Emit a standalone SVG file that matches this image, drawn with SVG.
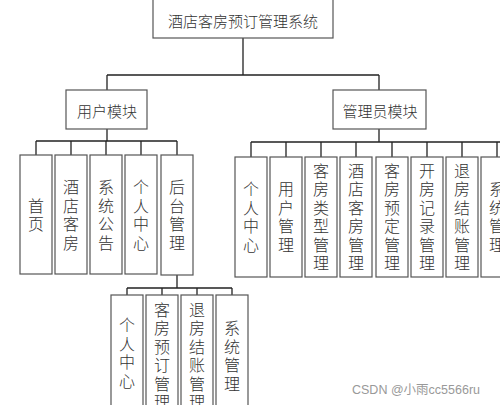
<svg xmlns="http://www.w3.org/2000/svg" width="500" height="405" viewBox="0 0 500 405">
<style>
.box{fill:#fff;stroke:#555;stroke-width:1.2}
.t{font-family:"Noto Sans CJK SC","Noto Sans",sans-serif;font-weight:300;fill:#333;text-anchor:middle}
.h{font-size:15px;dominant-baseline:central}
.v{font-size:16px;writing-mode:vertical-rl;letter-spacing:2.5px}
.c{fill:none;stroke:#222;stroke-width:1.3}
</style>
<rect width="500" height="405" fill="#fff"/>
<g id="connectors">
<path class="c" d="M243 38V75M107 75H379M107 75V90M379 75V90"/>
<path class="c" d="M107 129V141M36 141H177M36 141V155M71 141V155M106 141V155M141 141V155M177 141V155"/>
<path class="c" d="M379 129V142M251 142H500M251 142V157M286 142V157M321 142V157M356 142V157M392 142V157M427 142V157M462 142V157M497 142V157"/>
<path class="c" d="M177 275V288M127 288H232M127 288V295M162 288V295M197 288V295M232 288V295"/>
</g>
<g id="root"><rect class="box" x="153" y="-1" width="180" height="39"/><text class="t h" x="243" y="20">酒店客房预订管理系统</text></g>
<g id="user"><rect class="box" x="66" y="90" width="81" height="39"/><text class="t h" x="107" y="110">用户模块</text></g>
<g id="admin"><rect class="box" x="333" y="90" width="93" height="39"/><text class="t h" x="380" y="110">管理员模块</text></g>
<g id="u1"><rect class="box" x="20" y="155" width="32" height="119"/><text class="t v" x="36" y="216">首页</text></g>
<g id="u2"><rect class="box" x="55" y="155" width="32" height="119"/><text class="t v" x="71" y="216">酒店客房</text></g>
<g id="u3"><rect class="box" x="90" y="155" width="32" height="119"/><text class="t v" x="106" y="216">系统公告</text></g>
<g id="u4"><rect class="box" x="125" y="155" width="32" height="119"/><text class="t v" x="141" y="216">个人中心</text></g>
<g id="u5"><rect class="box" x="161" y="155" width="32" height="120"/><text class="t v" x="177" y="216">后台管理</text></g>
<g id="a1"><rect class="box" x="235" y="157" width="32" height="120"/><text class="t v" x="251" y="218">个人中心</text></g>
<g id="a2"><rect class="box" x="270" y="157" width="32" height="120"/><text class="t v" x="286" y="218">用户管理</text></g>
<g id="a3"><rect class="box" x="305" y="157" width="32" height="120"/><text class="t v" x="321" y="218">客房类型管理</text></g>
<g id="a4"><rect class="box" x="340" y="157" width="32" height="120"/><text class="t v" x="356" y="218">酒店客房管理</text></g>
<g id="a5"><rect class="box" x="376" y="157" width="32" height="120"/><text class="t v" x="392" y="218">客房预定管理</text></g>
<g id="a6"><rect class="box" x="411" y="157" width="32" height="120"/><text class="t v" x="427" y="218">开房记录管理</text></g>
<g id="a7"><rect class="box" x="446" y="157" width="32" height="120"/><text class="t v" x="462" y="218">退房结账管理</text></g>
<g id="a8"><rect class="box" x="481" y="157" width="32" height="120"/><text class="t v" x="497" y="218">系统管理</text></g>
<g id="b1"><rect class="box" x="111" y="295" width="32" height="120"/><text class="t v" x="127" y="354">个人中心</text></g>
<g id="b2"><rect class="box" x="146" y="295" width="32" height="120"/><text class="t v" x="162" y="357">客房预订管理</text></g>
<g id="b3"><rect class="box" x="181" y="295" width="32" height="120"/><text class="t v" x="197" y="357">退房结账管理</text></g>
<g id="b4"><rect class="box" x="216" y="295" width="32" height="120"/><text class="t v" x="232" y="357">系统管理</text></g>
<text x="352" y="394" font-family="'Liberation Sans','Noto Sans CJK SC',sans-serif" font-size="12.5" fill="#999">CSDN @小雨cc5566ru</text>
</svg>
